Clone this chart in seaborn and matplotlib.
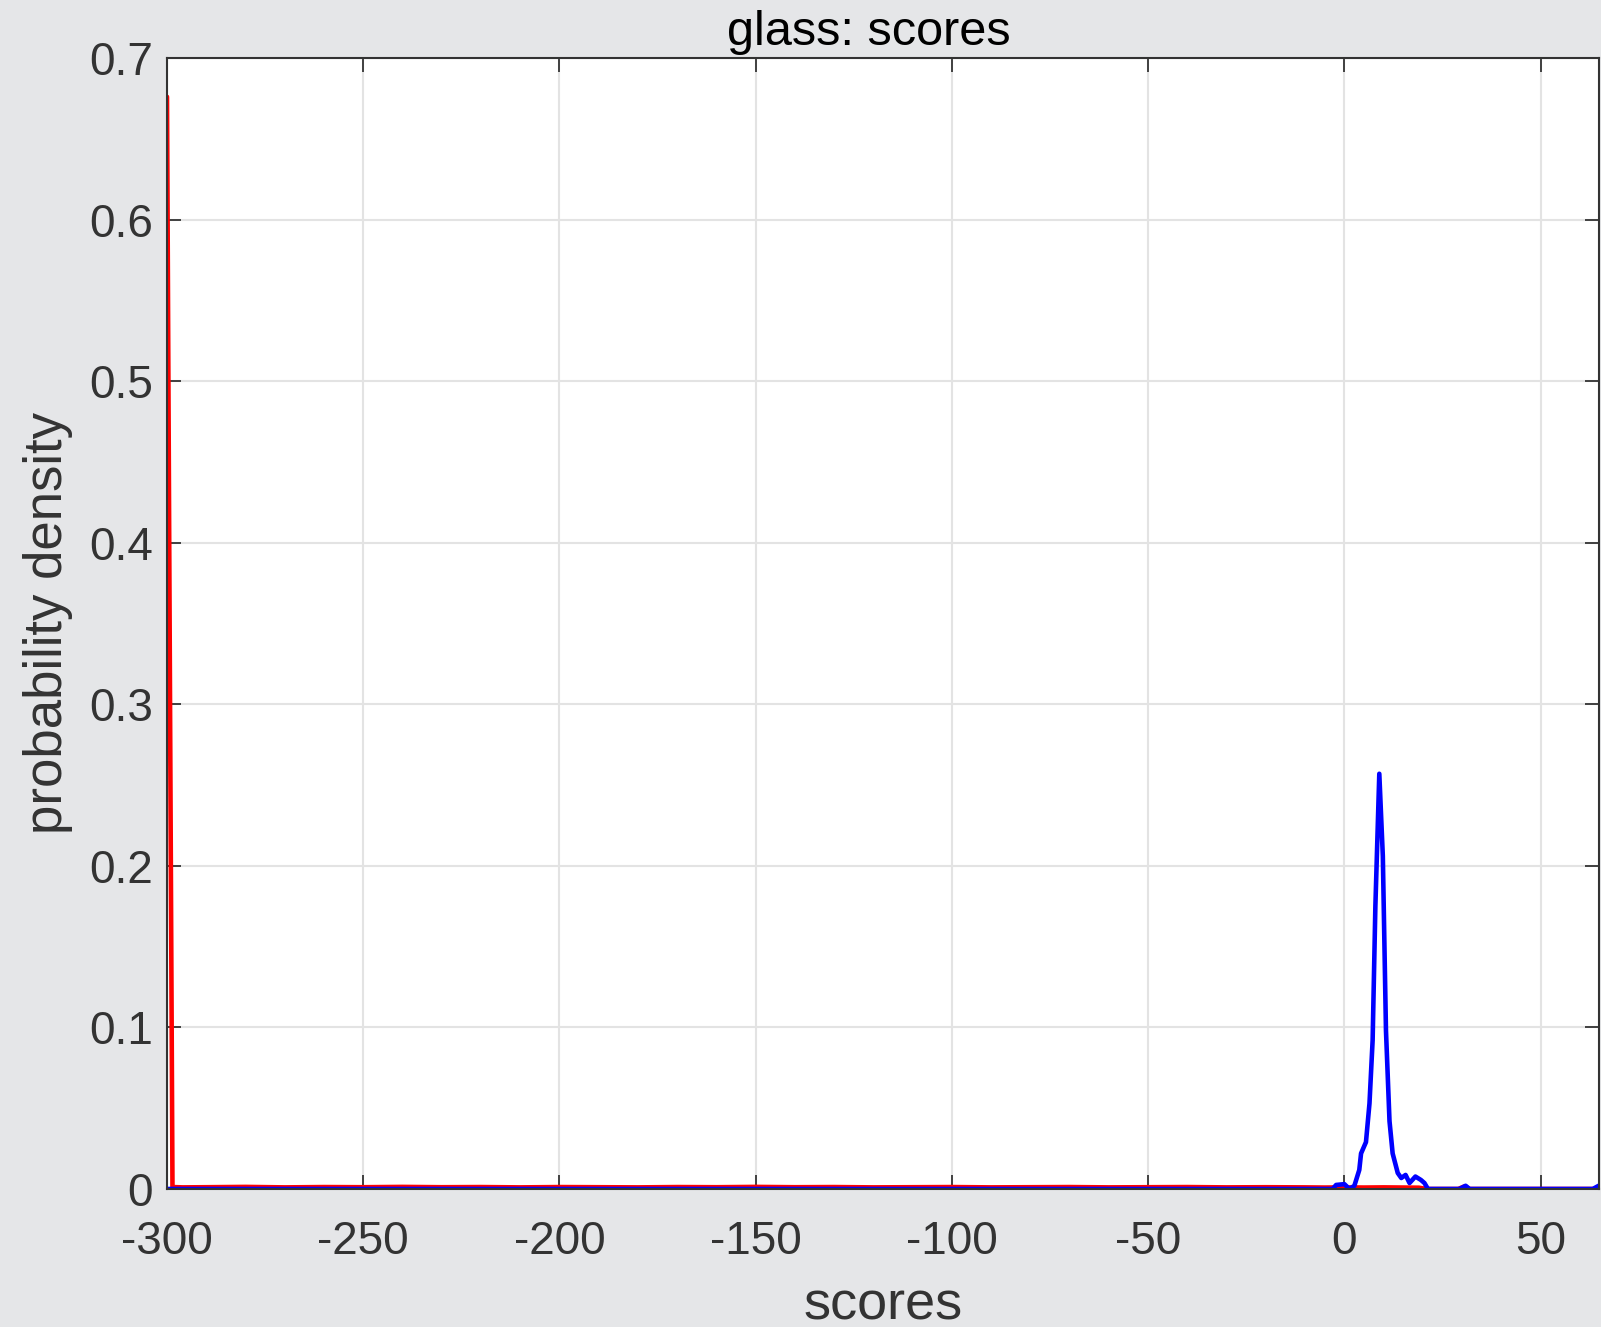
import numpy as np
import pandas as pd
import matplotlib
matplotlib.use("Agg")
import matplotlib.pyplot as plt
import seaborn as sns

# ---- data ----
red_x = [-300.0, -298.6, -296, -290, -280, -270, -260, -250, -240, -230, -220, -210,
         -200, -190, -180, -170, -160, -150, -140, -130, -120, -110, -100, -90,
         -80, -70, -60, -50, -40, -30, -20, -10, -5, 0, 5, 10, 15, 19, 21, 29,
         30.5, 32, 40, 50, 60, 65]
red_y = [0.676, 0.0012, 0.0010, 0.0011, 0.0013, 0.0010, 0.0012, 0.0011, 0.0013, 0.0011,
         0.0012, 0.0010, 0.0012, 0.0011, 0.0010, 0.0012, 0.0011, 0.0013, 0.0011, 0.0012,
         0.0010, 0.0011, 0.0012, 0.0010, 0.0011, 0.0012, 0.0010, 0.0011, 0.0012, 0.0010,
         0.0011, 0.0010, 0.0009, 0.0010, 0.0009, 0.0010, 0.0009, 0.0008, 0.0, 0.0,
         0.0015, 0.0, 0.0, 0.0, 0.0, 0.0]

blue_x = [-300.0, -3.0, -2.1, 0.0, 1.3, 2.55, 3.8, 4.25, 5.5, 6.4, 7.2, 7.9, 8.9,
          9.8, 10.6, 11.5, 12.3, 13.6, 14.5, 15.6, 16.6, 18.1, 19.5, 20.4, 21.3,
          29.3, 30.9, 31.9, 63.3, 64.8]
blue_y = [0.0, 0.0, 0.0025, 0.003, 0.0, 0.002, 0.0118, 0.022, 0.029, 0.053, 0.092,
          0.175, 0.257, 0.206, 0.098, 0.042, 0.022, 0.0099, 0.0068, 0.0087, 0.0037,
          0.0077, 0.0056, 0.0037, 0.0, 0.0, 0.002, 0.0, 0.0, 0.002]

x_ticks = [-300, -250, -200, -150, -100, -50, 0, 50]
x_ticklabels = ["-300", "-250", "-200", "-150", "-100", "-50", "0", "50"]
y_ticks = [0, 0.1, 0.2, 0.3, 0.4, 0.5, 0.6, 0.7]
y_ticklabels = ["0", "0.1", "0.2", "0.3", "0.4", "0.5", "0.6", "0.7"]

sns.set_style("whitegrid")
plt.rcParams["font.family"] = ["Liberation Sans", "DejaVu Sans"]

BG = "#E5E6E8"
fig = plt.figure(figsize=(16.01, 13.27), dpi=100, facecolor=BG)
ax = fig.add_axes([0.1043, 0.104, 0.8945, 0.8523])
ax.set_facecolor("white")

red_df = pd.DataFrame({"x": red_x, "y": red_y})
blue_df = pd.DataFrame({"x": blue_x, "y": blue_y})
sns.lineplot(data=red_df, x="x", y="y", color="#FF0000", linewidth=3.3, ax=ax,
             sort=False, estimator=None)
sns.lineplot(data=blue_df, x="x", y="y", color="#0000FF", linewidth=3.3, ax=ax,
             sort=False, estimator=None)

ax.set_xlim(-300, 64.9)
ax.set_ylim(0, 0.7)
ax.set_xticks(x_ticks)
ax.set_xticklabels(x_ticklabels)
ax.set_yticks(y_ticks)
ax.set_yticklabels(y_ticklabels)

ax.grid(True, color="#E3E3E3", linewidth=1.5)
for s in ax.spines.values():
    s.set_visible(True)
    s.set_color("#333333")
    s.set_linewidth(1.5)

ax.tick_params(axis="both", which="both", direction="in", length=10, width=1.3,
               color="#333333", labelcolor="#333333", labelsize=33,
               top=True, right=True, bottom=True, left=True)
ax.tick_params(axis="x", pad=22)
ax.tick_params(axis="y", pad=10)

ax.set_xlabel("scores", fontsize=39, color="#333333", labelpad=12)
ax.set_ylabel("probability density", fontsize=38, color="#333333", labelpad=12)
ax.set_title("glass: scores", fontsize=35, color="black", pad=9, x=0.490)

fig.savefig("out.png", dpi=100, facecolor=BG)
